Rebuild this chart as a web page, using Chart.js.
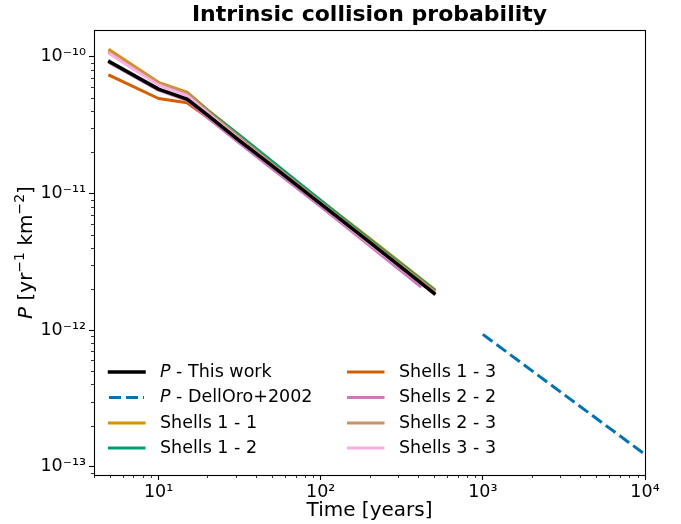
<!DOCTYPE html>
<html lang="en">
<head>
<meta charset="UTF-8">
<title>Intrinsic collision probability</title>
<script src="https://cdn.jsdelivr.net/npm/chart.js"></script>
<style>
  body { margin: 0; background: #fff; }
  #box { width: 681px; height: 524px; }
</style>
</head>
<body>
<div id="box"><canvas id="grafico" width="681" height="524"></canvas></div>
<script>
// time axis (years)
const tempos = [5, 10, 15, 20, 30, 50, 100, 200, 500];
const tempos22 = [5, 10, 15, 20, 30, 50, 100, 200, 410];
const temposDellOro = [1000, 10000];

// P [yr^-1 km^-2]
const pEsteTrabalho = [9.2e-11, 5.8e-11, 4.9e-11, 3.75e-11, 2.55e-11, 1.6e-11, 8.4e-12, 4.4e-12, 1.86e-12];
const pDellOro = [9.3e-13, 1.23e-13];
const shells11 = [1.12e-10, 6.5e-11, 5.5e-11, 4.1e-11, 2.8e-11, 1.7e-11, 8.9e-12, 4.7e-12, 2.0e-12];
const shells12 = [1.07e-10, 6.3e-11, 5.4e-11, 4.05e-11, 2.8e-11, 1.72e-11, 8.9e-12, 4.6e-12, 1.97e-12];
const shells13 = [7.3e-11, 4.95e-11, 4.6e-11, 3.6e-11, 2.5e-11, 1.58e-11, 8.3e-12, 4.35e-12, 1.85e-12];
const shells22 = [9.0e-11, 5.7e-11, 4.8e-11, 3.6e-11, 2.45e-11, 1.52e-11, 8.0e-12, 4.15e-12, 2.1e-12];
const shells23 = [1.08e-10, 6.4e-11, 5.4e-11, 4.0e-11, 2.7e-11, 1.65e-11, 8.6e-12, 4.5e-12, 1.93e-12];
const shells33 = [1.05e-10, 6.2e-11, 5.2e-11, 3.9e-11, 2.6e-11, 1.6e-11, 8.3e-12, 4.3e-12, 1.85e-12];

const FONTE = '"DejaVu Sans", sans-serif';

function pontos(xs, ys) {
    return xs.map((x, i) => ({ x: x, y: ys[i] }));
}

const sup = { '-': '\u207B', '0': '\u2070', '1': '\u00B9', '2': '\u00B2', '3': '\u00B3', '4': '\u2074', '5': '\u2075', '6': '\u2076', '7': '\u2077', '8': '\u2078', '9': '\u2079' };
function pot10(v) {
    const e = Math.round(Math.log10(v));
    return '10' + String(e).split('').map(c => sup[c]).join('');
}

function decadas(min, max) {
    const out = [];
    for (let e = Math.ceil(Math.log10(min) - 1e-9); e <= Math.floor(Math.log10(max) + 1e-9); e++) out.push(Math.pow(10, e));
    return out;
}
function menores(min, max) {
    const out = [];
    for (let e = Math.floor(Math.log10(min)); e <= Math.ceil(Math.log10(max)); e++) {
        for (let k = 2; k <= 9; k++) {
            const v = k * Math.pow(10, e);
            if (v >= min && v <= max) out.push(v);
        }
    }
    return out;
}

// legend entries, 2 columns like matplotlib ncol=2
const legenda = [
    { italico: 'P', texto: ' - This work', cor: '#000000', largura: 3.5 },
    { italico: 'P', texto: ' - DellOro+2002', cor: '#0173b2', largura: 3, tracejado: true },
    { texto: 'Shells 1 - 1', cor: '#de8f05', largura: 3 },
    { texto: 'Shells 1 - 2', cor: '#029e73', largura: 3 },
    { texto: 'Shells 1 - 3', cor: '#d55e00', largura: 3 },
    { texto: 'Shells 2 - 2', cor: '#cc78bc', largura: 3 },
    { texto: 'Shells 2 - 3', cor: '#ca9161', largura: 3 },
    { texto: 'Shells 3 - 3', cor: '#fbafe4', largura: 3 }
];

const moldura = {
    id: 'moldura',
    afterDraw(chart) {
        const ctx = chart.ctx, a = chart.chartArea;
        ctx.save();

        // minor ticks
        ctx.strokeStyle = '#000';
        ctx.lineWidth = 0.8;
        const sx = chart.scales.x, sy = chart.scales.y;
        menores(sx.min, sx.max).forEach(v => {
            const px = Math.round(sx.getPixelForValue(v)) + 0.5;
            ctx.beginPath(); ctx.moveTo(px, a.bottom); ctx.lineTo(px, a.bottom + 3); ctx.stroke();
        });
        menores(sy.min, sy.max).forEach(v => {
            const py = Math.round(sy.getPixelForValue(v)) + 0.5;
            ctx.beginPath(); ctx.moveTo(a.left, py); ctx.lineTo(a.left - 3, py); ctx.stroke();
        });

        // box around plot
        ctx.lineWidth = 1.1;
        ctx.strokeStyle = '#000';
        ctx.strokeRect(Math.round(a.left) + 0.5, Math.round(a.top) + 0.5, Math.round(a.right - a.left), Math.round(a.bottom - a.top));

        // y label with italic P and superscripts
        ctx.translate(31.5, (a.top + a.bottom) / 2);
        ctx.rotate(-Math.PI / 2);
        const normal = '20px ' + FONTE, pequeno = '14px ' + FONTE;
        const partes = [
            { t: 'P', f: 'italic ' + normal, dy: 0 },
            { t: ' [yr', f: normal, dy: 0 },
            { t: '\u22121', f: pequeno, dy: -8 },
            { t: ' km', f: normal, dy: 0 },
            { t: '\u22122', f: pequeno, dy: -8 },
            { t: ']', f: normal, dy: 0 }
        ];
        let total = 0;
        partes.forEach(p => { ctx.font = p.f; p.w = ctx.measureText(p.t).width; total += p.w; });
        let x = -total / 2;
        ctx.fillStyle = '#000';
        ctx.textBaseline = 'alphabetic';
        partes.forEach(p => { ctx.font = p.f; ctx.fillText(p.t, x, p.dy); x += p.w; });
        ctx.restore();

        // legend
        ctx.save();
        const linhas = [372, 397.5, 423, 448];
        const colunas = [108, 347];
        ctx.textBaseline = 'middle';
        legenda.forEach((item, i) => {
            const col = Math.floor(i / 4), lin = i % 4;
            const x0 = colunas[col], y0 = linhas[lin];
            ctx.strokeStyle = item.cor;
            ctx.lineWidth = item.largura;
            ctx.lineCap = item.tracejado ? 'butt' : 'square';
            ctx.setLineDash(item.tracejado ? [12, 5] : []);
            ctx.beginPath();
            ctx.moveTo(item.tracejado ? x0 + 1 : x0 + 1.5, y0);
            ctx.lineTo(item.tracejado ? x0 + 36 : x0 + 36, y0);
            ctx.stroke();
            ctx.setLineDash([]);
            ctx.fillStyle = '#000';
            let tx = x0 + 52;
            if (item.italico) {
                ctx.font = 'italic 17.5px ' + FONTE;
                ctx.fillText(item.italico, tx, y0);
                tx += ctx.measureText(item.italico).width;
            }
            ctx.font = '17.5px ' + FONTE;
            ctx.fillText(item.texto, tx, y0);
        });
        ctx.restore();
    }
};

function serie(rotulo, xs, ys, cor, largura, ordem, tracejado) {
    return {
        label: rotulo,
        data: pontos(xs, ys),
        borderColor: cor,
        backgroundColor: cor,
        borderWidth: largura,
        borderDash: tracejado ? [12, 5] : [],
        borderCapStyle: tracejado ? 'butt' : 'square',
        borderJoinStyle: 'round',
        pointRadius: 0,
        tension: 0,
        fill: false,
        order: ordem
    };
}

const ctx = document.getElementById('grafico').getContext('2d');

new Chart(ctx, {
    type: 'line',
    data: {
        datasets: [
            serie('P - This work', tempos, pEsteTrabalho, '#000000', 3.5, 0),
            serie('P - DellOro+2002', temposDellOro, pDellOro, '#0173b2', 3, 1, true),
            serie('Shells 1 - 1', tempos, shells11, '#de8f05', 3, 8),
            serie('Shells 1 - 2', tempos, shells12, '#029e73', 3, 7),
            serie('Shells 1 - 3', tempos, shells13, '#d55e00', 3, 6),
            serie('Shells 2 - 2', tempos22, shells22, '#cc78bc', 3, 5),
            serie('Shells 2 - 3', tempos, shells23, '#ca9161', 3, 4),
            serie('Shells 3 - 3', tempos, shells33, '#fbafe4', 3, 3)
        ]
    },
    options: {
        responsive: false,
        animation: false,
        layout: { padding: { left: 0, right: 36, top: 0, bottom: 0 } },
        plugins: {
            legend: { display: false },
            tooltip: { enabled: false },
            title: {
                display: true,
                fullSize: false,
                text: 'Intrinsic collision probability',
                color: '#000',
                font: { family: FONTE, size: 22, weight: 'bold', lineHeight: 1.2 },
                padding: { top: 2, bottom: 1.6 }
            }
        },
        scales: {
            x: {
                type: 'logarithmic',
                min: 4,
                max: 10000,
                afterBuildTicks: (axis) => { axis.ticks = decadas(axis.min, axis.max).map(v => ({ value: v })); },
                afterFit: (scale) => { scale.height = 49; },
                grid: { display: true, drawOnChartArea: false, tickLength: 5, tickWidth: 1.1, tickColor: '#000' },
                border: { display: false },
                ticks: {
                    autoSkip: false,
                    maxRotation: 0,
                    padding: 2,
                    color: '#000',
                    font: { family: FONTE, size: 17.5 },
                    callback: (v) => pot10(v)
                },
                title: {
                    display: true,
                    text: 'Time [years]',
                    color: '#000',
                    font: { family: FONTE, size: 20 },
                    padding: { top: 0, bottom: 1 }
                }
            },
            y: {
                type: 'logarithmic',
                min: 8.7e-14,
                max: 1.57e-10,
                afterBuildTicks: (axis) => { axis.ticks = decadas(axis.min, axis.max).map(v => ({ value: v })); },
                afterFit: (scale) => { scale.width = 94; },
                grid: { display: true, drawOnChartArea: false, tickLength: 5, tickWidth: 1.1, tickColor: '#000' },
                border: { display: false },
                ticks: {
                    autoSkip: false,
                    padding: 3,
                    color: '#000',
                    font: { family: FONTE, size: 17.5 },
                    callback: (v) => pot10(v)
                }
            }
        }
    },
    plugins: [moldura]
});
</script>
</body>
</html>
